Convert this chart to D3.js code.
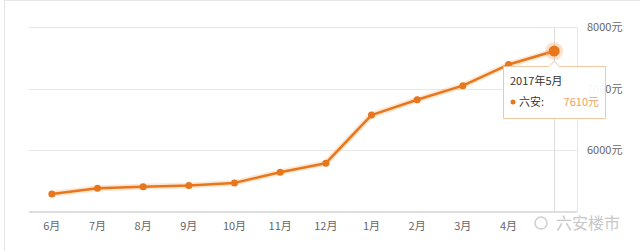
<!DOCTYPE html>
<html lang="zh">
<head>
  <meta charset="UTF-8" />
  <title>六安房价走势</title>
  <script src="https://cdn.jsdelivr.net/npm/d3@7/dist/d3.min.js"></script>
  <style>
    body { margin: 0; background: #fff; font-family: "Noto Sans CJK SC", "Noto Sans", sans-serif; }
    svg { display: block; }
  </style>
</head>
<body>
  <svg id="chart" width="640" height="251"></svg>
  <script>
    // data
    var months = ["6月", "7月", "8月", "9月", "10月", "11月", "12月", "1月", "2月", "3月", "4月", "5月"];
    var prices = [5293, 5385, 5411, 5428, 5472, 5646, 5792, 6572, 6821, 7049, 7390, 7610];
    var yTicks = [5000, 6000, 7000, 8000];
    var yTickLabels = ["", "6000元", "7000元", "8000元"];
    var tipTitle = "2017年5月";
    var tipSeries = "六安";

    var orange = "#e8761c";
    var svg = d3.select("#chart");

    // card border
    svg.append("rect").attr("x", 4.5).attr("y", 0.5).attr("width", 660).attr("height", 270)
       .attr("fill", "#fff").attr("stroke", "#e6e6e6");

    var x = d3.scaleBand().domain(months).range([29, 577]);
    var y = d3.scaleLinear().domain([5000, 8000]).range([212, 27]);
    var cx = function(m) { return x(m) + x.bandwidth() / 2; };

    // horizontal grid
    svg.append("g").selectAll("line").data(yTicks.slice(1)).join("line")
       .attr("x1", 29).attr("x2", 577)
       .attr("y1", function(d) { return Math.round(y(d)) + 0.5; })
       .attr("y2", function(d) { return Math.round(y(d)) + 0.5; })
       .attr("stroke", "#e8e8e8");

    // right border of plot
    svg.append("line").attr("x1", 577.5).attr("x2", 577.5).attr("y1", y(8000)).attr("y2", y(5000))
       .attr("stroke", "#e8e8e8");

    // crosshair at the hovered month
    var last = months.length - 1;
    svg.append("line").attr("x1", Math.round(cx(months[last])) + 0.5).attr("x2", Math.round(cx(months[last])) + 0.5)
       .attr("y1", y(8000)).attr("y2", y(5000)).attr("stroke", "#dcdcdc");

    // x axis line
    svg.append("line").attr("x1", 29).attr("x2", 577).attr("y1", 212).attr("y2", 212)
       .attr("stroke", "#dedede").attr("stroke-width", 2);

    // x labels (last one sits under the watermark in the source, so it is not drawn)
    svg.append("g").selectAll("text").data(months.slice(0, last)).join("text")
       .attr("x", cx).attr("y", 230)
       .attr("text-anchor", "middle").attr("font-size", 11).attr("fill", "#666")
       .text(function(d) { return d; });

    // y labels on the right
    svg.append("g").selectAll("text").data(yTicks).join("text")
       .attr("x", 587).attr("y", function(d) { return y(d) + 4; })
       .attr("font-size", 11).attr("fill", "#666")
       .text(function(d, i) { return yTickLabels[i]; });

    var line = d3.line()
       .x(function(d, i) { return cx(months[i]); })
       .y(function(d) { return y(d); });

    // glow then line
    svg.append("path").datum(prices).attr("d", line)
       .attr("fill", "none").attr("stroke", "rgba(245,175,110,0.3)").attr("stroke-width", 6)
       .attr("stroke-linejoin", "round");
    svg.append("path").datum(prices).attr("d", line)
       .attr("fill", "none").attr("stroke", orange).attr("stroke-width", 2.5)
       .attr("stroke-linejoin", "round");

    svg.append("g").selectAll("circle").data(prices.slice(0, last)).join("circle")
       .attr("cx", function(d, i) { return cx(months[i]); })
       .attr("cy", function(d) { return y(d); })
       .attr("r", 3.5).attr("fill", orange);

    // highlighted last point
    var lx = cx(months[last]), ly = y(prices[last]);
    svg.append("circle").attr("cx", lx).attr("cy", ly).attr("r", 9).attr("fill", "rgba(245,160,90,0.3)");
    svg.append("circle").attr("cx", lx).attr("cy", ly).attr("r", 5.5).attr("fill", orange);

    // tooltip
    var tip = svg.append("g").attr("transform", "translate(503,66)");
    tip.append("path")
       .attr("d", "M0.5,0.5 H" + (lx - 503 - 5) + " L" + (lx - 503) + ",-5 L" + (lx - 503 + 5) + ",0.5 H102.5 V52.5 H0.5 Z")
       .attr("fill", "rgba(255,255,255,0.95)").attr("stroke", "#f3c7a2");
    tip.append("text").attr("x", 7).attr("y", 19).attr("font-size", 11).attr("fill", "#333").text(tipTitle);
    tip.append("circle").attr("cx", 10).attr("cy", 36).attr("r", 2.5).attr("fill", orange);
    tip.append("text").attr("x", 16).attr("y", 40).attr("font-size", 11).attr("fill", "#333").text(tipSeries + ":");
    tip.append("text").attr("x", 96).attr("y", 40).attr("text-anchor", "end").attr("font-size", 11)
       .attr("fill", "#f0a060").text(prices[last] + "元");

    // watermark
    var wm = svg.append("g");
    wm.append("circle").attr("cx", 541).attr("cy", 223).attr("r", 6)
       .attr("fill", "none").attr("stroke", "#cfcfcf").attr("stroke-width", 1.5);
    wm.append("text").attr("x", 620).attr("y", 229).attr("text-anchor", "end")
       .attr("font-size", 16).attr("fill", "#c8c8c8")
       .attr("stroke", "#fff").attr("stroke-width", 2).attr("paint-order", "stroke")
       .text("六安楼市");
  </script>
</body>
</html>
